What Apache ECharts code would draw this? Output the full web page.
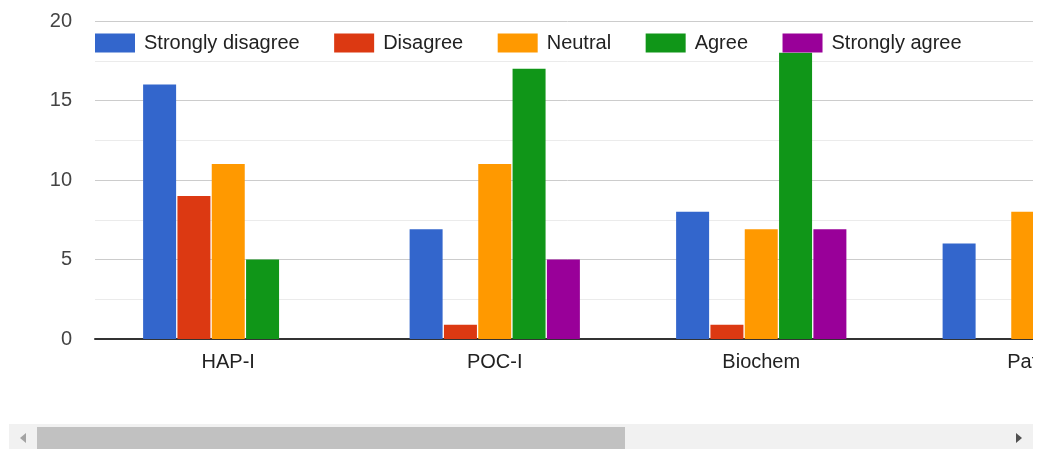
<!DOCTYPE html>
<html>
<head>
<meta charset="utf-8">
<script src="https://cdn.jsdelivr.net/npm/echarts@6/dist/echarts.min.js"></script>
<style>
html,body{margin:0;padding:0;background:#fff;}
#chart{width:1039px;height:449px;}
</style>
</head>
<body>
<div id="chart"></div>
<script>
var categories = ['HAP-I', 'POC-I', 'Biochem', 'Path'];
var seriesNames = ['Strongly disagree', 'Disagree', 'Neutral', 'Agree', 'Strongly agree'];
var stronglyDisagree = [16, 6.9, 8, 6];
var disagree = [9, 0.9, 0.9, 0];
var neutral = [11, 11, 6.9, 8];
var agree = [5, 17, 18, null];
var stronglyAgree = [0, 5, 6.9, null];
var yTicks = [0, 5, 10, 15, 20];
var colors = ['#3366cc', '#dc3912', '#ff9900', '#109618', '#990099'];

var values = [stronglyDisagree, disagree, neutral, agree, stronglyAgree];
var FONT = 'Arial, "Liberation Sans", sans-serif';

var chart = echarts.init(document.getElementById('chart'), null, {renderer: 'canvas'});
var option = {
  animation: false,
  color: colors,
  textStyle: {fontFamily: FONT},
  legend: {
    left: 95, top: 33, padding: 0,
    itemWidth: 40, itemHeight: 19, itemGap: 34.5,
    icon: 'rect',
    textStyle: {fontSize: 20, color: '#222', fontFamily: FONT, padding: [0, 0, 0, 4]},
    data: seriesNames
  },
  grid: {left: 95, top: 21, height: 318, width: 1066, outerBoundsMode: 'none', containLabel: false},
  xAxis: {
    type: 'category',
    data: categories,
    axisLine: {show: true, lineStyle: {color: '#333', width: 2}},
    axisTick: {show: false},
    axisLabel: {fontSize: 20, color: '#222', margin: 13, fontFamily: FONT},
    splitLine: {show: false}
  },
  yAxis: {
    type: 'value',
    min: yTicks[0], max: yTicks[yTicks.length - 1], interval: 5,
    axisLine: {show: false},
    axisTick: {show: false},
    axisLabel: {fontSize: 20, color: '#444', margin: 23, fontFamily: FONT},
    splitLine: {show: true, lineStyle: {color: '#cccccc', width: 1}},
    minorTick: {show: false, splitNumber: 2},
    minorSplitLine: {show: true, lineStyle: {color: '#ebebeb', width: 1}}
  },
  series: seriesNames.map(function (n, i) {
    return {
      name: n,
      type: 'bar',
      data: values[i],
      barWidth: 33,
      barGap: '4%',
      itemStyle: {color: colors[i]}
    };
  }),
  graphic: [
    {type: 'rect', z: 100, shape: {x: 1033, y: 0, width: 6, height: 449}, style: {fill: '#fff'}},
    {type: 'rect', z: 100, shape: {x: 9, y: 424, width: 1024, height: 25}, style: {fill: '#f1f1f1'}},
    {type: 'rect', z: 101, shape: {x: 37, y: 427, width: 588, height: 22}, style: {fill: '#c1c1c1'}},
    {type: 'polygon', z: 101, shape: {points: [[26, 433], [26, 443], [20, 438]]}, style: {fill: '#a3a3a3'}},
    {type: 'polygon', z: 101, shape: {points: [[1016, 433], [1016, 443], [1022, 438]]}, style: {fill: '#505050'}}
  ]
};
chart.setOption(option);
</script>
</body>
</html>
